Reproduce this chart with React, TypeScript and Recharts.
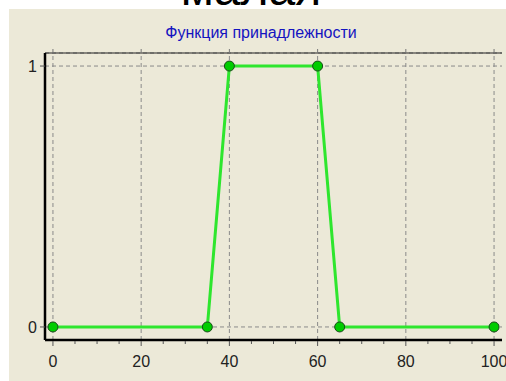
import React from 'react';
import { LineChart, Line, XAxis, YAxis, CartesianGrid, ReferenceLine } from 'recharts';

// membership function points (x, mu)
const X_VALUES = [0, 35, 40, 60, 65, 100];
const MEMBERSHIP = [0, 0, 1, 1, 0, 0];

const X_TICKS = [0, 20, 40, 60, 80, 100];
const X_MINOR_TICKS = [0, 5, 10, 15, 20, 25, 30, 35, 40, 45, 50, 55, 60, 65, 70, 75, 80, 85, 90, 95, 100];
const Y_TICKS = [0, 1];

const X_DOMAIN = [-1.8, 101.8];
const Y_DOMAIN = [-0.05, 1.05];

const PANEL_BG = '#ECE9D8';
const GRID = '#8a8a8a';

const data = X_VALUES.map((x, i) => ({ x, mu: MEMBERSHIP[i] }));

const BottomTick = ({ x, y, payload }: any) => {
  const major = payload.value % 20 === 0;
  return (
    <g>
      <line x1={x} x2={x} y1={y + 1} y2={y + (major ? 6 : 4)} stroke="#555" />
      {major && (
        <text x={x} y={y + 21} textAnchor="middle" dominantBaseline="central" fontSize={16} fill="#222">
          {payload.value}
        </text>
      )}
    </g>
  );
};

export default function App() {
  return (
    <div style={{ position: 'fixed', left: 0, top: 0, width: 506, height: 381, background: '#fff', overflow: 'hidden', fontFamily: '"Liberation Sans", Arial, sans-serif' }}>
      <div style={{ position: 'absolute', left: 9, top: 9, width: 497, height: 372, background: PANEL_BG }}>
        <LineChart width={497} height={372} data={data} margin={{ top: 40, right: 4, bottom: 11, left: 0 }}>
          <CartesianGrid vertical={false} stroke={GRID} strokeDasharray="4 3" />
          {X_TICKS.map((v) => (
            <ReferenceLine key={v} x={v} stroke={GRID} strokeDasharray="4 3" />
          ))}
          <XAxis
            dataKey="x"
            type="number"
            domain={X_DOMAIN}
            allowDataOverflow
            ticks={X_MINOR_TICKS}
            interval={0}
            height={30}
            tickSize={0}
            tickMargin={0}
            tickLine={false}
            tick={<BottomTick />}
            axisLine={{ stroke: '#000', strokeWidth: 2.5 }}
          />
          <XAxis
            xAxisId="top"
            orientation="top"
            dataKey="x"
            type="number"
            domain={X_DOMAIN}
            allowDataOverflow
            ticks={X_TICKS}
            interval={0}
            height={4}
            tickSize={4}
            tickFormatter={() => ''}
            tickLine={{ stroke: '#777' }}
            axisLine={{ stroke: '#222', strokeWidth: 1.2 }}
          />
          <YAxis
            type="number"
            domain={Y_DOMAIN}
            allowDataOverflow
            ticks={Y_TICKS}
            interval={0}
            width={36}
            tickSize={5}
            tickMargin={3}
            tick={{ fontSize: 16, fill: '#222' }}
            tickLine={{ stroke: '#555' }}
            axisLine={{ stroke: '#000', strokeWidth: 2.5 }}
          />
          <YAxis
            yAxisId="right"
            orientation="right"
            type="number"
            domain={Y_DOMAIN}
            width={0}
            tick={false}
            tickLine={false}
            axisLine={{ stroke: '#222', strokeWidth: 1.2 }}
          />
          <Line
            type="linear"
            dataKey="mu"
            stroke="#2EE62E"
            strokeWidth={3}
            dot={{ r: 5, fill: '#00CC00', stroke: '#1A4A1A', strokeWidth: 1 }}
            isAnimationActive={false}
          />
        </LineChart>
      </div>
      <svg width={506} height={45} style={{ position: 'absolute', left: 0, top: 0, pointerEvents: 'none' }}>
        <text x={251} y={5} textAnchor="middle" fontSize={48} fill="#000">малая</text>
        <text x={261} y={38} textAnchor="middle" fontSize={16} fill="#1414C0">Функция принадлежности</text>
      </svg>
    </div>
  );
}
